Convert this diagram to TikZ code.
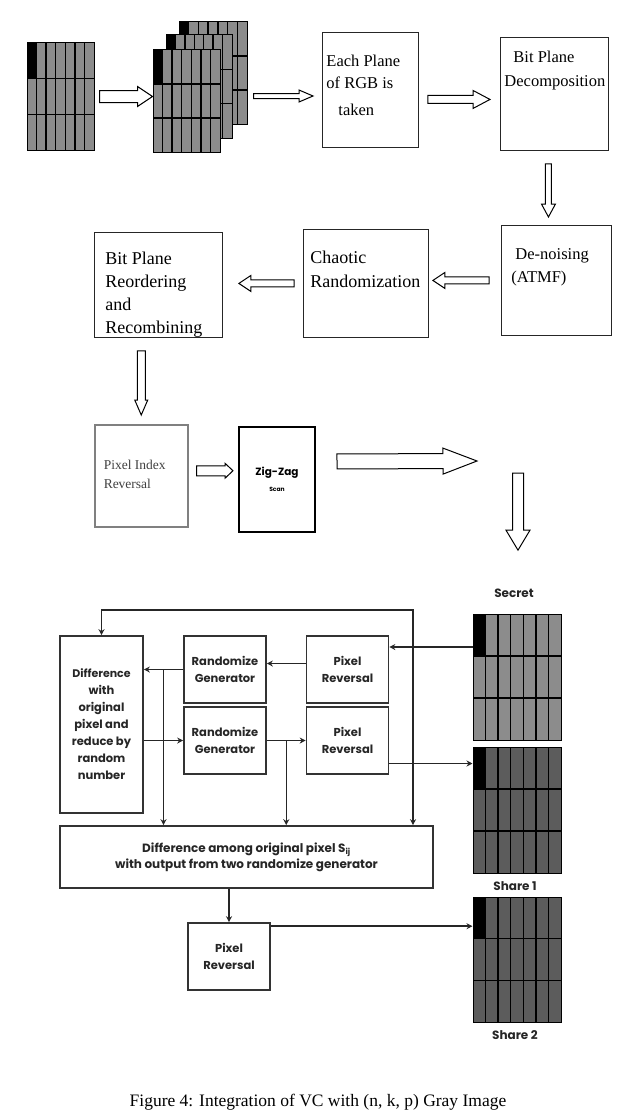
\documentclass[tikz,border=0pt]{standalone}
\usepackage{fontspec}
\setmainfont{Liberation Serif}
\newfontfamily\gothic{Poppins}
\usetikzlibrary{calc,arrows.meta,positioning}

% box text hung from the top of a box
\newcommand{\boxtext}[3]{\parbox[t][#1][t]{#2}{\raggedright #3}}

\tikzstyle{line} = [draw=black!85, line width=1.5pt, -{Stealth[length=6pt,width=6pt]}]

\tikzset{
  gapstart/.store in=\gapstart, gapstart=0pt,
  gapend/.store in=\gapend, gapend=0pt,
  shaft/.store in=\shafthw, shaft=4pt,
  headw/.store in=\headhw, headw=9pt,
  headl/.store in=\headlen, headl=14pt,
  % hollow block arrow between two points
  hollow/.style={draw=black, line width=1pt, fill=white, to path={
    ($(\tikztostart)!\gapstart!(\tikztotarget)$) coordinate (ha)
    ($(\tikztotarget)!\gapend!(\tikztostart)$) coordinate (hb)
    ($(hb)!\headlen!(ha)$) coordinate (hh)
    ($(ha)!\shafthw!90:(hb)$) -- ($(hh)!\shafthw!90:(hb)$) -- ($(hh)!\headhw!90:(hb)$)
    -- (hb) -- ($(hh)!\headhw!-90:(hb)$) -- ($(hh)!\shafthw!-90:(hb)$)
    -- ($(ha)!\shafthw!-90:(hb)$) -- cycle}},
  % 7 x 3 pixel block with a black first pixel
  pixgrid/.style={draw=black, line width=1pt, inner sep=0pt, fill=black!45,
    path picture={
      \fill[black] let \p1=(path picture bounding box.north west),
        \p2=(path picture bounding box.south east) in
        (\p1) rectangle ({\x1+(\x2-\x1)/7},{\y1+(\y2-\y1)/3});
      \foreach \k in {1,...,6}
        \draw[line width=1.4pt]
          ($(path picture bounding box.north west)!\k/7!(path picture bounding box.north east)$)
          -- ($(path picture bounding box.south west)!\k/7!(path picture bounding box.south east)$);
      \foreach \k in {1,2}
        \draw[line width=1.4pt]
          ($(path picture bounding box.north west)!\k/3!(path picture bounding box.south west)$)
          -- ($(path picture bounding box.north east)!\k/3!(path picture bounding box.south east)$);
    }},
}

\begin{document}
\begin{tikzpicture}[x=1pt, y=-1pt,
    sbox/.style={draw=black!85, line width=0.9pt, inner sep=0pt, anchor=north west},
    gbox/.style={draw=black!80, line width=1.6pt, inner sep=0pt, minimum width=82pt,
        minimum height=67pt, align=center, text=black!85,
        font=\gothic\bfseries\fontsize{11.5}{17}\selectfont},
    tag/.style={font=\gothic\bfseries\fontsize{12}{14}\selectfont, text=black!85}
    ]
    \useasboundingbox (0,0) rectangle (631,1116);

    % image and its planes
    \node[pixgrid, minimum width=67pt, minimum height=107pt] (img) at (60.5,96.5) {};
    \node[pixgrid, minimum width=68pt, minimum height=102pt] (rgbb) at (213,73) {};
    \node[pixgrid, minimum width=66pt, minimum height=103pt] (rgbg) at (199,86.5) {};
    \node[pixgrid, minimum width=67pt, minimum height=102pt] (rgbr) at (186.5,101) {};

    \node[sbox] (each) at (322,32) {\boxtext{115pt}{96pt}{\fontsize{16.5}{22}\selectfont
        \leftskip=4pt\vspace*{23pt}Each Plane\\of RGB is\\[5pt]\hspace*{12pt}taken}};
    \node[sbox] (decomp) at (500,37) {\boxtext{113pt}{108pt}{\fontsize{16.5}{24}\selectfont
        \leftskip=4pt\vspace*{14pt}\hspace*{9pt}Bit Plane\\Decomposition}};
    \node[sbox] (denoise) at (501,225) {\boxtext{110pt}{110pt}{\fontsize{16.5}{23}\selectfont
        \leftskip=10pt\vspace*{23pt}\hspace*{4pt}De-noising\\(ATMF)}};
    \node[sbox] (chaotic) at (303,229) {\boxtext{108pt}{125pt}{\fontsize{18}{24}\selectfont
        \leftskip=7pt\vspace*{22pt}Chaotic\\Randomization}};
    \node[sbox] (reorder) at (94,232) {\boxtext{105pt}{128pt}{\fontsize{18}{23}\selectfont
        \leftskip=11pt\vspace*{20pt}Bit Plane\\Reordering\\and\\Recombining}};
    \node[sbox, draw=black!50, line width=1.5pt, text=black!75] (pixidx) at (94,424)
        {\boxtext{102pt}{93pt}{\fontsize{13.5}{19}\selectfont
        \leftskip=9pt\vspace*{35pt}Pixel Index\\Reversal}};
    \node[draw=black, line width=2pt, inner sep=0pt, minimum width=76pt, minimum height=105pt,
        anchor=north west, align=center] (zigzag) at (238,426)
        {{\gothic\bfseries\fontsize{10.5}{12}\selectfont Zig-Zag}\\[4pt]%
         {\gothic\bfseries\fontsize{6}{8}\selectfont Scan}};

    % block arrows
    \draw[hollow, gapstart=5pt, shaft=6pt, headw=10pt, headl=15pt] (img.east) to (img.east -| rgbr.west);
    \coordinate (a2) at ([yshift=-23pt]rgbb.east);
    \draw[hollow, gapstart=6pt, gapend=9pt, shaft=2.5pt, headw=6pt, headl=14pt] (a2) to (a2 -| each.west);
    \coordinate (a3) at ([yshift=-9.5pt]each.east);
    \draw[hollow, gapstart=9pt, gapend=10pt, shaft=4pt, headw=9pt, headl=17pt] (a3) to (a3 -| decomp.west);
    \coordinate (a4) at ([xshift=-6pt]decomp.south);
    \draw[hollow, gapstart=13pt, gapend=8pt, shaft=3pt, headw=7pt, headl=13pt] (a4) to (a4 |- denoise.north);
    \draw[hollow, gapstart=12pt, gapend=4pt, shaft=3.5pt, headw=8pt, headl=12pt] (denoise.west) to (denoise.west -| chaotic.east);
    \draw[hollow, gapstart=9pt, gapend=16pt, shaft=3.5pt, headw=8pt, headl=12pt] (chaotic.west) to (chaotic.west -| reorder.east);
    \coordinate (a7) at (pixidx.north |- reorder.south);
    \draw[hollow, gapstart=13pt, gapend=9pt, shaft=4pt, headw=6.5pt, headl=15pt] (a7) to (pixidx.north);
    \coordinate (a8) at ([yshift=5pt]pixidx.east);
    \draw[hollow, gapstart=8pt, gapend=5pt, shaft=5pt, headw=7.5pt, headl=8pt] (a8) to (a8 -| zigzag.west);
    \coordinate (a9) at ([yshift=18pt]zigzag.east);
    \coordinate (turn) at (477,461);
    \draw[hollow, gapstart=21pt, shaft=7.5pt, headw=13pt, headl=34pt] (a9) to (turn);

    % secret and shares
    \node[tag] (secretlbl) at (514,593) {Secret};
    \node[pixgrid, minimum width=88pt, minimum height=126pt] (secret) at (517,677) {};
    \node[pixgrid, fill=black!64, minimum width=88pt, minimum height=126pt] (share1) at (517,810) {};
    \node[tag] (sharelbl1) at (515,886) {Share 1};
    \node[pixgrid, fill=black!64, minimum width=88pt, minimum height=125pt] (share2) at (517,959.5) {};
    \node[tag] (sharelbl2) at (515,1035) {Share 2};

    \coordinate (drop) at (518,473);
    \draw[hollow, gapend=35pt, shaft=5.5pt, headw=12pt, headl=20pt] (drop) to (drop |- secretlbl.north);

    % generator blocks
    \node[gbox, minimum width=83pt, minimum height=177pt] (diffr) at (101.5,724.5)
        {{\fontsize{11}{17}\selectfont Difference}\\with\\original\\pixel and\\reduce by\\random\\number};
    \node[gbox] (rg1) at (225,669.5) {Randomize\\Generator};
    \node[gbox] (pr1) at (347.5,669.5) {Pixel\\Reversal};
    \node[gbox] (rg2) at (225,740.5) {Randomize\\Generator};
    \node[gbox] (pr2) at (347.5,740.5) {Pixel\\Reversal};
    \node[gbox, minimum width=373pt, minimum height=62pt, font=\gothic\bfseries\fontsize{12}{16}\selectfont]
        (diffall) at (246.5,857) {Difference among original pixel S\textsubscript{ij}\\with output from two randomize generator};
    \node[gbox] (pr3) at (229,956.5) {Pixel\\Reversal};

    \coordinate (secin) at (secret.west |- 0,647);
    \coordinate (tap) at (413,647);
    \draw[line] (secin) -- (secin -| pr1.east);
    \draw[line] (tap) -- ++(0,-37) -| (diffr.north);
    \draw[line] (tap) -- (tap |- diffall.north);
    \draw[line] ([yshift=6pt]pr1.west) -- ([yshift=6pt]rg1.east);
    \draw[line] (rg1.west) -- (rg1.west -| diffr.east);
    \draw[line] ($(rg1.west)!.5!(rg1.west -| diffr.east)$) coordinate (t1) -- (t1 |- diffall.north);
    \draw[line] (rg2.west -| diffr.east) -- (rg2.west);
    \draw[line] (rg2.east) -- (pr2.west);
    \draw[line] ($(rg2.east)!.5!(pr2.west)$) coordinate (t2) -- (t2 |- diffall.north);
    \coordinate (p2out) at ([yshift=-23pt]pr2.east);
    \draw[line] (p2out) -- (p2out -| share1.west);
    \draw[line] (diffall.south -| pr3.north) -- (pr3.north);
    \coordinate (p3out) at ([yshift=-4pt]pr3.north east);
    \draw[line] (p3out) -- (p3out -| share2.west);

    \node[font=\fontsize{17.5}{20}\selectfont] (caption) at (318,1102)
        {Figure 4: Integration of VC with (n, k, p) Gray Image};
\end{tikzpicture}
\end{document}
